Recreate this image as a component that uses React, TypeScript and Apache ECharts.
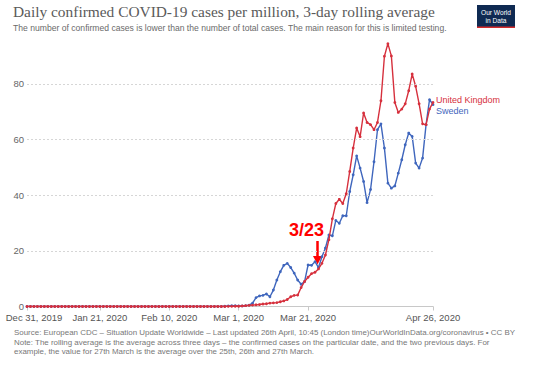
import React, { useEffect, useRef } from "react";
import * as echarts from "echarts";

const MONTHS = ["Jan", "Feb", "Mar", "Apr", "May", "Jun", "Jul", "Aug", "Sep", "Oct", "Nov", "Dec"];
const START_UTC = Date.UTC(2019, 11, 31);
const DAY_COUNT = 118; // Dec 31, 2019 .. Apr 26, 2020
const dates: string[] = Array.from({ length: DAY_COUNT }, (_, i) => {
  const d = new Date(START_UTC + i * 86400000);
  return `${MONTHS[d.getUTCMonth()]} ${d.getUTCDate()}, ${d.getUTCFullYear()}`;
});

const xTickLabels = ["Dec 31, 2019", "Jan 21, 2020", "Feb 10, 2020", "Mar 1, 2020", "Mar 21, 2020", "Apr 26, 2020"];
const yTickValues = [20, 40, 60, 80];

// Daily confirmed cases per million, 3-day rolling average
const unitedKingdom = [
  0, 0, 0, 0, 0, 0, 0, 0, 0, 0,
  0, 0, 0, 0, 0, 0, 0, 0, 0, 0,
  0, 0, 0, 0, 0, 0, 0, 0, 0, 0,
  0, 0, 0, 0, 0, 0, 0, 0, 0, 0,
  0, 0, 0, 0, 0, 0, 0, 0, 0, 0,
  0, 0, 0, 0, 0, 0, 0, 0,
  0.05, 0.05, 0.1, 0.1, 0.2, 0.3, 0.4, 0.5, 0.6, 0.7,
  0.9, 1.0, 1.2, 1.3, 1.4, 1.7, 2.0, 2.5, 3.5, 4.0,
  4.1, 6.8, 9.0, 10.5, 11.8, 12.3, 13.5, 15.5, 18.5, 24,
  31.5, 37, 38.5, 37, 40.5, 48.5, 56.9, 64.1, 61, 69.5,
  66.1, 65.3, 63.5, 66.1, 73.9, 89.9, 94.4, 90, 73.3, 69.7,
  70.9, 72.8, 77.5, 83.5, 79.1, 72.8, 65.6, 65.3, 70.9, 73.3,
];

const sweden = [
  0, 0, 0, 0, 0, 0, 0, 0, 0, 0,
  0, 0, 0, 0, 0, 0, 0, 0, 0, 0,
  0, 0, 0, 0, 0, 0, 0, 0, 0, 0,
  0, 0, 0, 0, 0, 0, 0, 0, 0, 0,
  0, 0, 0, 0, 0, 0, 0, 0, 0, 0,
  0, 0, 0, 0, 0, 0, 0,
  0.1, 0.2, 0.3, 0.3, 0.2, 0.2, 0.3, 0.5, 1.2, 3.2,
  3.8, 4.0, 4.5, 3.5, 5.9, 9.5, 12.5, 14.8, 15.5, 14.0,
  12.0, 9.5, 8.0, 9.0, 14.9, 14.8, 16.1, 14.0, 17.9, 21,
  25.7, 25.4, 30.9, 29.9, 32.6, 32.6, 41.3, 47.3, 54.1, 49.7,
  44.9, 37.3, 42, 52, 63.5, 65.6, 56.9, 44.3, 42.5, 43.3,
  47.9, 52.7, 58.1, 62.3, 61.1, 51.5, 49.7, 53.3, 65.3, 74.3,
  72.5,
];

const UK_COLOR = "#d6303d";
const SE_COLOR = "#3f66bd";
const SANS = "'Liberation Sans', Arial, sans-serif";

export default function App() {
  const ref = useRef<HTMLDivElement>(null);
  useEffect(() => {
    if (!ref.current) return;
    const chart = echarts.init(ref.current, null, { renderer: "svg" });
    chart.setOption({
      animation: false,
      backgroundColor: "#ffffff",
      textStyle: { fontFamily: SANS },
      grid: { left: 27, right: 108, top: 42, bottom: 58.5, containLabel: false },
      xAxis: {
        type: "category",
        data: dates,
        boundaryGap: false,
        axisLine: { show: true, lineStyle: { color: "#c8c8c8", width: 1 } },
        axisTick: {
          show: true,
          length: 4,
          interval: (_i: number, v: string) => xTickLabels.includes(v),
          lineStyle: { color: "#c8c8c8" },
        },
        axisLabel: {
          interval: (_i: number, v: string) => xTickLabels.includes(v),
          color: "#555",
          fontSize: 9.5,
          margin: 6,
          fontFamily: SANS,
          formatter: (v: string) => (v === xTickLabels[0] ? `{first|${v}}` : v),
          rich: { first: { padding: [0, 0, 0, 14], fontSize: 9.5, color: "#555", fontFamily: SANS } },
        },
        splitLine: { show: false },
      },
      yAxis: {
        type: "value",
        min: 0,
        max: 95,
        interval: 20,
        axisLine: { show: false },
        axisTick: { show: false },
        splitLine: { show: false },
        axisLabel: {
          color: "#666",
          fontSize: 9.5,
          margin: 3,
          fontFamily: SANS,
          formatter: (v: number) => (v % 20 === 0 ? String(v) : ""),
        },
      },
      series: [
        {
          name: "Sweden",
          type: "line",
          data: sweden,
          showAllSymbol: true,
          symbol: "circle",
          symbolSize: 2.8,
          itemStyle: { color: SE_COLOR },
          lineStyle: { color: SE_COLOR, width: 1.4 },
          endLabel: {
            show: true,
            formatter: "Sweden",
            color: SE_COLOR,
            fontSize: 9,
            fontFamily: SANS,
            distance: 3,
            offset: [0, 6],
          },
          markLine: {
            silent: true,
            symbol: "none",
            label: { show: false },
            lineStyle: { color: "#d6d6d6", type: [2, 2], width: 1 },
            data: yTickValues.map((v) => ({ yAxis: v })),
          },
          z: 2,
        },
        {
          name: "United Kingdom",
          type: "line",
          data: unitedKingdom,
          showAllSymbol: true,
          symbol: "circle",
          symbolSize: 2.8,
          itemStyle: { color: UK_COLOR },
          lineStyle: { color: UK_COLOR, width: 1.4 },
          endLabel: {
            show: true,
            formatter: "United Kingdom",
            color: UK_COLOR,
            fontSize: 9,
            fontFamily: SANS,
            distance: 3,
            offset: [0, -2],
          },
          z: 3,
        },
      ],
      graphic: [
        {
          type: "text",
          left: 13,
          top: 3.5,
          style: {
            text: "Daily confirmed COVID-19 cases per million, 3-day rolling average",
            fill: "#5a5a5a",
            font: "15.4px 'Liberation Serif', 'Times New Roman', serif",
          },
        },
        {
          type: "text",
          left: 13,
          top: 23,
          style: {
            text: "The number of confirmed cases is lower than the number of total cases. The main reason for this is limited testing.",
            fill: "#6a6a6a",
            font: `8.6px ${SANS}`,
          },
        },
        {
          type: "group",
          left: 477,
          top: 5,
          children: [
            { type: "rect", shape: { x: 0, y: 0, width: 38, height: 23 }, style: { fill: "#0f2a52" } },
            { type: "rect", shape: { x: 0, y: 21.5, width: 38, height: 1.5 }, style: { fill: "#d42b2b" } },
            {
              type: "text",
              x: 19,
              y: 3.5,
              style: { text: "Our World", fill: "#ffffff", font: `6.6px ${SANS}`, align: "center" },
            },
            {
              type: "text",
              x: 19,
              y: 11.5,
              style: { text: "in Data", fill: "#ffffff", font: `6.6px ${SANS}`, align: "center" },
            },
          ],
        },
        {
          type: "text",
          left: 289,
          top: 221,
          style: {
            text: "3/23",
            fill: "#ff0000",
            font: `bold 18px 'Liberation Sans', Arial, sans-serif`,
          },
        },
        {
          type: "line",
          shape: { x1: 317.5, y1: 241, x2: 317.5, y2: 257 },
          style: { stroke: "#ff0000", lineWidth: 2.5 },
        },
        {
          type: "polygon",
          shape: { points: [[313, 256], [322, 256], [317.5, 264.5]] },
          style: { fill: "#ff0000" },
        },
        {
          type: "text",
          left: 14,
          top: 328,
          style: {
            text: "Source: European CDC – Situation Update Worldwide – Last updated 26th April, 10:45 (London time)OurWorldInData.org/coronavirus • CC BY",
            fill: "#777",
            font: `7.95px ${SANS}`,
          },
        },
        {
          type: "text",
          left: 14,
          top: 338.5,
          style: {
            text: "Note: The rolling average is the average across three days – the confirmed cases on the particular date, and the two previous days. For",
            fill: "#777",
            font: `7.95px ${SANS}`,
          },
        },
        {
          type: "text",
          left: 14,
          top: 347.5,
          style: {
            text: "example, the value for 27th March is the average over the 25th, 26th and 27th March.",
            fill: "#777",
            font: `7.95px ${SANS}`,
          },
        },
      ],
    });
    return () => chart.dispose();
  }, []);
  return (
    <div
      ref={ref}
      style={{ position: "absolute", left: 0, top: 0, width: 541, height: 365 }}
    />
  );
}
